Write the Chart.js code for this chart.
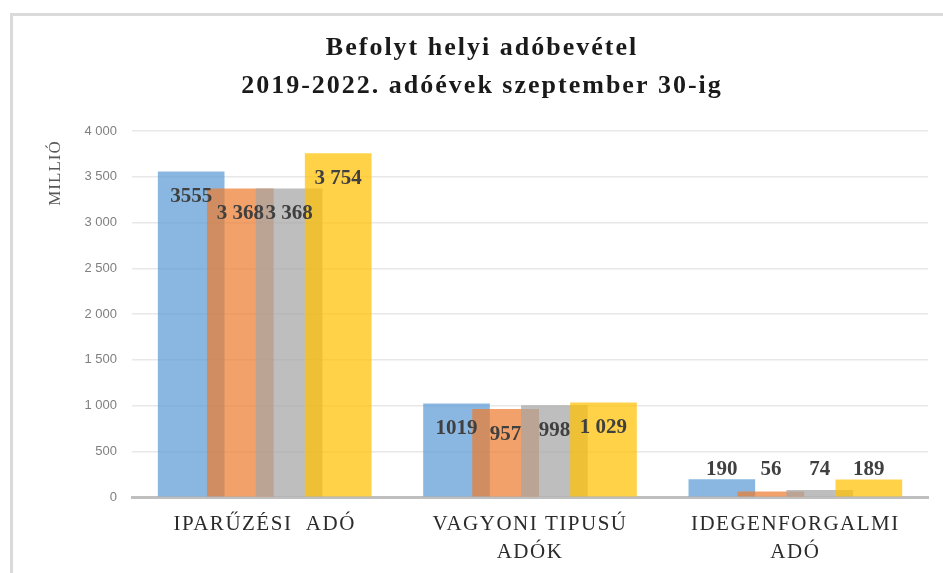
<!DOCTYPE html>
<html><head><meta charset="utf-8">
<script src="https://cdn.jsdelivr.net/npm/chart.js@4/dist/chart.umd.min.js"></script>
<style>
html,body{margin:0;padding:0;background:#fff;overflow:hidden}
#frame{position:absolute;left:10px;top:13px;width:940px;height:570px;border-top:3px solid #dadada;border-left:3px solid #dadada;}
canvas{position:absolute;left:0;top:0}
</style></head>
<body><div id="frame"></div><canvas id="c" width="943" height="573"></canvas>
<script>
// ---- data ----
const categories = [['IPARŰZÉSI  ADÓ'], ['VAGYONI TIPUSÚ', 'ADÓK'], ['IDEGENFORGALMI', 'ADÓ']];
const seriesNames = ['2019', '2020', '2021', '2022'];
const values2019 = [3555, 1019, 190];
const values2020 = [3368, 957, 56];
const values2021 = [3368, 998, 74];
const values2022 = [3754, 1029, 189];
const labels2019 = ['3555', '1019', '190'];
const labels2020 = ['3 368', '957', '56'];
const labels2021 = ['3 368', '998', '74'];
const labels2022 = ['3 754', '1 029', '189'];
const yTickValues = [0, 500, 1000, 1500, 2000, 2500, 3000, 3500, 4000];
const chartTitle = ['Befolyt helyi adóbevétel', '2019-2022. adóévek szeptember 30-ig'];
const yAxisTitle = 'MILLIÓ';

// ---- styling / layout ----
const seriesValues = [values2019, values2020, values2021, values2022];
const seriesLabels = [labels2019, labels2020, labels2021, labels2022];
const colors = ['rgba(91,155,213,0.72)', 'rgba(237,125,49,0.72)', 'rgba(165,165,165,0.72)', 'rgba(255,192,0,0.72)'];
const offsets = [-0.277, -0.092, 0.092, 0.277];

const datasets = seriesValues.map((vals, k) => ({
  label: seriesNames[k],
  data: vals.map((v, i) => ({x: i + offsets[k], y: v})),
  valueLabels: seriesLabels[k],
  backgroundColor: colors[k],
  borderWidth: 0,
  barThickness: 66,
  grouped: false,
  order: 4 - k
}));

const valueLabelPlugin = {
  id: 'valueLabels',
  afterDatasetsDraw(chart) {
    const ctx = chart.ctx;
    ctx.save();
    ctx.font = 'bold 21px "Liberation Serif"';
    ctx.fillStyle = '#404040';
    ctx.textAlign = 'center';
    ctx.textBaseline = 'middle';
    chart.data.datasets.forEach((ds, di) => {
      const meta = chart.getDatasetMeta(di);
      meta.data.forEach((bar, i) => {
        const h = bar.base - bar.y;
        const y = h > 60 ? bar.y + 25 : Math.min(bar.y - 10, bar.base - 27);
        ctx.fillText(ds.valueLabels[i], bar.x, y);
      });
    });
    ctx.restore();
  }
};

// slightly widen x-axis category labels like the reference serif face
const spacingPlugin = {
  id: 'xLabelSpacing',
  afterLayout(chart) {
    const s = chart.scales.x;
    if (s && !s._spacedWrap) {
      const orig = s.drawLabels;
      s.drawLabels = function (area) {
        const ctx = this.ctx;
        ctx.save();
        ctx.letterSpacing = '1.5px';
        orig.call(this, area);
        ctx.restore();
      };
      s._spacedWrap = true;
    }
  }
};

const titlePlugin = {
  id: 'titleText',
  afterDraw(chart) {
    const ctx = chart.ctx;
    ctx.save();
    ctx.font = 'bold 26px "Liberation Serif"';
    ctx.letterSpacing = '2px';
    ctx.fillStyle = '#1a1a1a';
    ctx.textAlign = 'center';
    ctx.textBaseline = 'middle';
    ctx.fillText(chartTitle[0], 482, 48);
    ctx.fillText(chartTitle[1], 482, 86);
    ctx.restore();
    ctx.save();
    ctx.font = '17px "Liberation Serif"';
    ctx.letterSpacing = '1px';
    ctx.fillStyle = '#595959';
    ctx.textAlign = 'center';
    ctx.textBaseline = 'middle';
    ctx.translate(56, 173);
    ctx.rotate(-Math.PI / 2);
    ctx.fillText(yAxisTitle, 0, 0);
    ctx.restore();
  }
};

new Chart(document.getElementById('c'), {
  type: 'bar',
  data: {datasets},
  options: {
    responsive: false,
    animation: false,
    layout: {padding: {top: 131, right: 15, left: 0, bottom: 0}},
    plugins: {legend: {display: false}, title: {display: false}, tooltip: {enabled: false}},
    scales: {
      x: {
        type: 'linear',
        min: -0.5, max: 2.5,
        offset: false,
        afterBuildTicks: (s) => { s.ticks = categories.map((_, i) => ({value: i})); },
        afterFit: (s) => { s.height = 76; },
        grid: {display: false, drawTicks: false},
        border: {display: true, color: '#bfbfbf', width: 3},
        ticks: {
          autoSkip: false, maxRotation: 0, padding: 13,
          color: '#2b2b2b',
          font: {family: '"Liberation Serif"', size: 21, lineHeight: 1.34},
          callback: (v) => categories[v] || ''
        }
      },
      y: {
        min: 0, max: 4000,
        afterBuildTicks: (s) => { s.ticks = yTickValues.map(v => ({value: v})); },
        afterFit: (s) => { s.width = 132; },
        grid: {color: '#e8e8e8', lineWidth: 1.5, drawTicks: false},
        border: {display: false},
        ticks: {
          padding: 15,
          color: '#7f7f7f',
          font: {family: '"Liberation Sans"', size: 13},
          callback: (v) => String(v).replace(/\B(?=(\d{3})+(?!\d))/g, ' ')
        }
      }
    }
  },
  plugins: [spacingPlugin, valueLabelPlugin, titlePlugin]
});
</script>
</body></html>
